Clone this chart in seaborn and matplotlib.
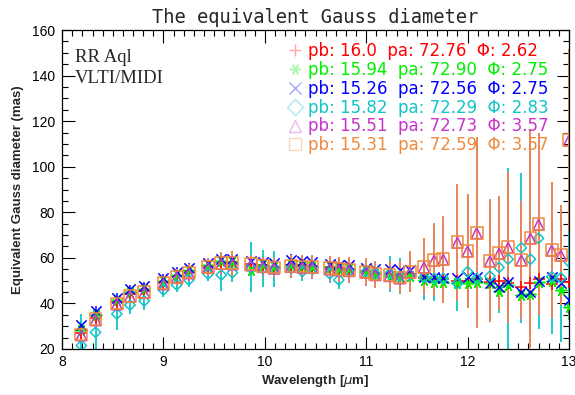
import numpy as np
import pandas as pd
import matplotlib
matplotlib.use("Agg")
import matplotlib.pyplot as plt
from matplotlib.lines import Line2D
from matplotlib.ticker import MultipleLocator
import seaborn as sns

# ---------------- data ----------------
wavelength = [8.19, 8.33, 8.54, 8.67, 8.81, 9.00, 9.13, 9.25, 9.44, 9.57,
              9.68, 9.86, 9.98, 10.09, 10.26, 10.37, 10.47, 10.64, 10.73, 10.83,
              11.00, 11.09, 11.23, 11.33, 11.43, 11.57, 11.67, 11.76, 11.90, 12.00,
              12.09, 12.22, 12.31, 12.40, 12.53, 12.62, 12.70, 12.83, 12.92, 13.00]

red = [27.0, 33.8, 40.5, 44.0, 45.6, 49.3, 52.1, 54.0, 56.5, 58.2,
       58.0, 57.5, 57.0, 56.2, 57.0, 56.8, 56.5, 55.8, 55.4, 55.0,
       54.3, 53.5, 53.0, 52.0, 53.0, 51.0, 50.5, 50.5, 50.0, 50.0,
       50.5, 49.5, 49.8, 49.0, 47.0, 48.8, 50.5, 48.4, 50.5, 49.5]
green = [28.5, 35.0, 41.5, 45.0, 46.5, 50.0, 52.5, 54.5, 56.8, 58.5,
         58.0, 54.5, 56.8, 56.0, 56.8, 56.5, 56.0, 55.8, 55.2, 55.0,
         54.0, 53.0, 52.0, 51.5, 52.0, 50.3, 49.5, 49.5, 48.8, 48.8,
         49.5, 48.8, 45.6, 48.0, 43.5, 44.0, 49.5, 49.8, 45.9, 38.6]
blue = [30.5, 36.8, 42.5, 46.2, 47.6, 51.0, 53.9, 55.7, 57.6, 59.4,
        59.4, 58.7, 58.3, 57.6, 59.0, 58.5, 58.3, 57.5, 57.0, 56.8,
        55.4, 55.0, 55.0, 54.5, 54.8, 51.7, 51.7, 51.0, 51.0, 51.4,
        51.7, 48.8, 47.3, 49.5, 45.1, 45.1, 50.0, 51.4, 48.8, 41.5]
cyan = [21.5, 27.3, 35.4, 39.3, 41.1, 45.9, 48.1, 50.3, 52.9, 52.5,
        53.5, 56.0, 55.3, 55.0, 55.5, 54.0, 55.0, 53.0, 50.3, 54.0,
        54.0, 53.0, 53.0, 52.0, 52.5, 51.5, 51.0, 51.0, 48.8, 53.9,
        51.0, 52.0, 55.8, 59.4, 64.4, 59.4, 68.6, 51.7, 51.2, 58.3]
magenta = [26.0, 32.6, 39.6, 43.0, 44.6, 48.4, 51.2, 53.2, 55.6, 57.4,
           57.2, 56.8, 56.0, 55.3, 56.0, 55.8, 55.6, 55.0, 54.6, 54.2,
           53.5, 52.4, 52.0, 51.0, 53.5, 55.8, 58.8, 59.2, 66.6, 62.8,
           70.8, 58.5, 61.8, 64.4, 58.9, 68.4, 74.5, 63.2, 61.0, 111.5]
orange = [26.4, 33.0, 40.0, 43.4, 45.0, 48.8, 51.7, 53.6, 56.1, 57.9,
          57.6, 57.3, 56.5, 55.8, 56.4, 56.2, 56.1, 55.4, 55.0, 54.7,
          53.9, 52.8, 52.5, 51.4, 53.9, 56.1, 59.1, 59.4, 66.8, 63.0,
          71.0, 58.7, 62.0, 64.6, 59.1, 68.6, 74.7, 63.4, 61.2, 111.7]

red_err = [2.0, 2.0, 2.0, 2.0, 2.0, 2.0, 2.0, 2.0, 2.0, 2.5,
           2.5, 2.5, 2.5, 2.5, 2.5, 2.5, 2.5, 3.0, 3.0, 3.0,
           3.0, 3.0, 3.0, 3.0, 3.5, 4.0, 4.0, 4.0, 5.0, 5.0,
           5.0, 5.0, 5.0, 6.0, 6.0, 6.0, 6.0, 6.0, 6.0, 6.0]
green_err = [2.0, 2.0, 2.0, 2.0, 2.0, 2.0, 2.0, 2.0, 2.0, 2.5,
             2.5, 2.5, 2.5, 2.5, 2.5, 2.5, 2.5, 3.0, 3.0, 3.0,
             3.0, 3.0, 3.0, 3.0, 3.5, 4.0, 4.0, 4.0, 5.0, 5.0,
             5.0, 5.0, 5.0, 6.0, 6.0, 6.0, 6.0, 6.0, 6.0, 6.0]
blue_err = [2.0, 2.0, 2.0, 2.0, 2.0, 2.0, 2.0, 2.0, 2.0, 2.5,
            2.5, 2.5, 2.5, 2.5, 2.5, 2.5, 2.5, 3.0, 3.0, 3.0,
            3.0, 3.0, 3.0, 3.0, 3.5, 4.0, 4.0, 4.0, 5.0, 5.0,
            5.0, 5.0, 5.0, 6.0, 6.0, 6.0, 6.0, 6.0, 6.0, 6.0]
cyan_err = [14, 8, 7, 4, 4, 3, 3, 3, 3, 7,
            4, 11, 8, 8, 4, 4, 4, 4, 4, 4,
            4, 5, 8, 8, 6, 10, 10, 10, 12, 12,
            20, 15, 20, 40, 33, 25, 40, 25, 28, 20]
magenta_err = [2.4, 2.8, 2.8, 2.8, 2.8, 2.8, 3.3, 3.3, 3.5, 4.3,
               5.1, 3.8, 3.8, 3.8, 4.8, 4.8, 4.8, 5.2, 5.2, 5.2,
               5.7, 5.7, 5.7, 6.6, 8.5, 11.8, 15.2, 18.0, 24.3, 24.0,
               40.0, 25.6, 23.8, 31.4, 24.7, 45.6, 38.0, 28.5, 21.0, 38.0]
orange_err = [2.5, 3, 3, 3, 3, 3, 3.5, 3.5, 3.7, 4.5,
              5.4, 4, 4, 4, 5, 5, 5, 5.5, 5.5, 5.5,
              6, 6, 6, 7, 9, 12.4, 16, 19, 25.6, 25.2,
              42, 27, 25, 33, 26, 48, 40, 30, 22, 40]

legend_labels = ["pb: 16.0  pa: 72.76  \u03a6: 2.62",
                 "pb: 15.94  pa: 72.90  \u03a6: 2.75",
                 "pb: 15.26  pa: 72.56  \u03a6: 2.75",
                 "pb: 15.82  pa: 72.29  \u03a6: 2.83",
                 "pb: 15.51  pa: 72.73  \u03a6: 3.57",
                 "pb: 15.31  pa: 72.59  \u03a6: 3.57"]

x_ticks = [8, 9, 10, 11, 12, 13]
y_ticks = [20, 40, 60, 80, 100, 120, 140, 160]

# ---------------- style ----------------
sns.set_style("ticks")
plt.rcParams["font.family"] = ["Liberation Sans", "DejaVu Sans"]
plt.rcParams["mathtext.fontset"] = "dejavusans"

colors = ["#ff0000", "#00f000", "#0000ff", "#10c4c8", "#c834c8", "#f08a3c"]
err_colors = ["#ff4040", "#40f040", "#4040ff", "#20c8cc", "#d060c0", "#e8885a"]
markers = ["+", (6, 2, 90), "x", "D", "^", "s"]
hollow = [False, False, False, True, True, True]
sizes = [70, 60, 55, 28, 60, 72]

series = [red, green, blue, cyan, magenta, orange]
errors = [red_err, green_err, blue_err, cyan_err, magenta_err, orange_err]

fig = plt.figure(figsize=(5.75, 3.95), dpi=100)
ax = fig.add_axes([0.108, 0.1165, 0.8815, 0.8075])

# error bars first
for vals, errs, ec in zip(series, errors, err_colors):
    ax.errorbar(wavelength, vals, yerr=errs, fmt="none", ecolor=ec,
                elinewidth=1.4, capsize=0, zorder=2, clip_on=True)

# markers
for vals, c, m, h, s in zip(series, colors, markers, hollow, sizes):
    df = pd.DataFrame({"wl": wavelength, "d": vals})
    if h:
        sns.scatterplot(data=df, x="wl", y="d", ax=ax, marker=m, s=s,
                        color=c, facecolor="none", edgecolor=c,
                        linewidth=1.1, zorder=3, legend=False)
    else:
        sns.scatterplot(data=df, x="wl", y="d", ax=ax, marker=m, s=s,
                        color=c, linewidth=1.1, zorder=3, legend=False)

ax.set_xlim(8, 13)
ax.set_ylim(20, 160)
ax.set_xticks(x_ticks)
ax.set_yticks(y_ticks)
ax.xaxis.set_minor_locator(MultipleLocator(0.1))
ax.yaxis.set_minor_locator(MultipleLocator(5))
ax.tick_params(which="both", direction="in", top=True, right=True,
               width=0.8, colors="black")
ax.tick_params(which="major", length=9, labelsize=10)
ax.tick_params(which="minor", length=4.5)
ax.tick_params(axis="x", pad=4.5)
ax.tick_params(axis="y", pad=5)
for sp in ax.spines.values():
    sp.set_visible(True)
    sp.set_linewidth(0.9)
    sp.set_color("black")

ax.set_xlabel("Wavelength [$\\mu$m]", fontsize=9.5, fontweight="bold", labelpad=3)
ax.set_ylabel("Equivalent Gauss diameter (mas)", fontsize=9.5,
              fontweight="bold", labelpad=6)
ax.set_title("The equivalent Gauss diameter", fontsize=13.5,
             family="DejaVu Sans Mono", pad=5)

ax.text(0.026, 0.90, "RR Aql", transform=ax.transAxes, fontsize=13.5,
        family="Liberation Serif", va="baseline", ha="left")
ax.text(0.026, 0.834, "VLTI/MIDI", transform=ax.transAxes, fontsize=13.5,
        family="Liberation Serif", va="baseline", ha="left")

handles = []
for c, m, h in zip(colors, markers, hollow):
    handles.append(Line2D([], [], ls="none", marker=m, color=c, alpha=0.35,
                          mfc="none", markersize=8, mew=1.0))
leg = ax.legend(handles, legend_labels, loc="upper left",
                bbox_to_anchor=(0.447, 0.962), borderaxespad=0, borderpad=0,
                frameon=False, handlelength=0.8, handletextpad=0.35,
                labelspacing=0.05, labelcolor=colors,
                prop={"family": "DejaVu Sans", "size": 12})

fig.savefig("out.png", dpi=100, facecolor="white")
